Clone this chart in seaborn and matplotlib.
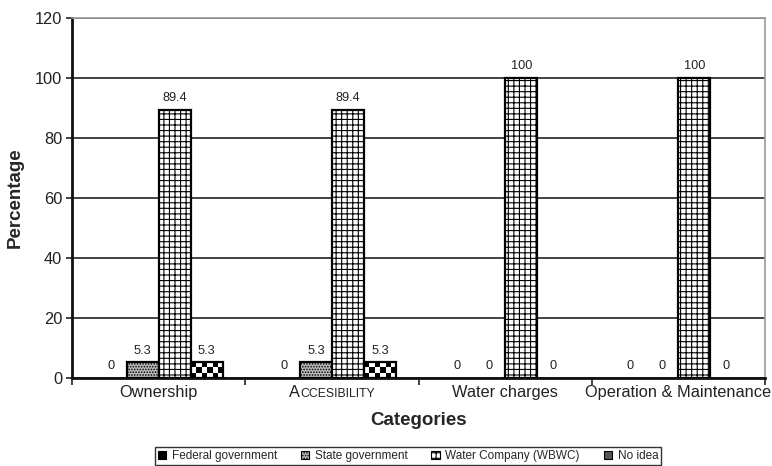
import matplotlib
matplotlib.use("Agg")
import numpy as np
import pandas as pd
import matplotlib.pyplot as plt
import seaborn as sns
from matplotlib.patches import Patch
from matplotlib.offsetbox import TextArea, HPacker, AnnotationBbox
from matplotlib.transforms import blended_transform_factory

# --- data -------------------------------------------------------------
categories = ["Ownership", "Accesibility", "Water charges", "Operation & Maintenance"]
series = ["Federal government", "State government", "Water Company (WBWC)", "No idea"]
federal = [0, 0, 0, 0]
state = [5.3, 5.3, 0, 0]
water_company = [89.4, 89.4, 100, 100]
no_idea = [5.3, 5.3, 0, 0]
y_ticks = [0, 20, 40, 60, 80, 100, 120]

values = {
    "Federal government": federal,
    "State government": state,
    "Water Company (WBWC)": water_company,
    "No idea": no_idea,
}
df = pd.DataFrame(
    [(c, s, values[s][i]) for s in series for i, c in enumerate(categories)],
    columns=["Category", "Series", "Percentage"],
)

# --- style ------------------------------------------------------------
sns.set_theme(style="white")
plt.rcParams["font.family"] = ["Liberation Sans", "DejaVu Sans"]
plt.rcParams["hatch.linewidth"] = 0.8

fig = plt.figure(figsize=(7.72, 4.66), dpi=100)
ax = fig.add_axes([0.0933, 0.1888, 0.8977, 0.7726])

sns.barplot(
    data=df, x="Category", y="Percentage", hue="Series",
    order=categories, hue_order=series, width=0.74,
    errorbar=None, saturation=1, legend=False, ax=ax,
)

styles = [
    dict(facecolor="black", hatch=""),
    dict(facecolor="#bdbdbd", hatch="......"),
    dict(facecolor="white", hatch="+++"),
    dict(facecolor="white", hatch=""),
]

for cont, st, s in zip(ax.containers, styles, series):
    for bar in cont:
        bar.set_facecolor(st["facecolor"])
        bar.set_hatch(st["hatch"])
        bar.set_edgecolor("black")
        bar.set_linewidth(1.6 if bar.get_height() > 0 else 0)
        bar.set_zorder(3)
    ax.bar_label(cont, labels=[f"{v:g}" for v in values[s]],
                 padding=4, fontsize=9.2, color="#222222")

# checkerboard fill for the "No idea" bars
checker = np.indices((3, 6)).sum(axis=0) % 2
for bar in ax.containers[3]:
    if bar.get_height() > 0:
        x0, y0 = bar.get_x(), bar.get_y()
        im = ax.imshow(checker, cmap="gray", interpolation="nearest",
                       extent=(x0, x0 + bar.get_width(), y0, y0 + bar.get_height()),
                       aspect="auto", zorder=3.5)
        im.set_clip_path(bar)
        bar.set_zorder(4)
        bar.set_facecolor("none")

ax.set_xlim(-0.5, len(categories) - 0.5)
ax.set_ylim(0, 120)
ax.set_yticks(y_ticks)
ax.tick_params(axis="y", labelsize=11.8, length=4, width=1.2, direction="out",
               left=True, pad=3, colors="#222222")
ax.set_xticks(range(len(categories)))
ax.set_xticklabels(categories)
ax.set_xticks(np.arange(-0.5, len(categories)), minor=True)
ax.tick_params(axis="x", which="major", length=0, labelsize=11.8, pad=5,
               colors="#222222")
ax.tick_params(axis="x", which="minor", length=5, width=1.2, bottom=True,
               direction="out", color="#222222")

ax.yaxis.grid(True, color="#333333", linewidth=1.3)
ax.set_axisbelow(True)
for side in ["left", "bottom"]:
    ax.spines[side].set_color("#111111")
    ax.spines[side].set_linewidth(2)
for side in ["top", "right"]:
    ax.spines[side].set_color("#999999")
    ax.spines[side].set_linewidth(1.2)

ax.set_ylabel("Percentage", fontsize=13.5, fontweight="bold", labelpad=8)
ax.set_xlabel("Categories", fontsize=13.5, fontweight="bold", labelpad=9)

# small-caps rendering for the second category label
fig.canvas.draw()
lbl = ax.get_xticklabels()[1]
bb = lbl.get_window_extent()
top_axes = ax.transAxes.inverted().transform((0, bb.y1))[1]
lbl.set_visible(False)
sc = HPacker(children=[
    TextArea("A", textprops=dict(fontsize=11.8, color="#222222")),
    TextArea("CCESIBILITY", textprops=dict(fontsize=8.8, color="#222222")),
], align="baseline", pad=0, sep=0)
ab = AnnotationBbox(sc, (1, top_axes),
                    xycoords=blended_transform_factory(ax.transData, ax.transAxes),
                    box_alignment=(0.5, 1), frameon=False, annotation_clip=False)
ax.add_artist(ab)

# legend
handles = []
for st, s in zip(styles, series):
    fc = st["facecolor"] if s != "No idea" else "#555555"
    handles.append(Patch(facecolor=fc, edgecolor="black", hatch=st["hatch"],
                         linewidth=0.8, label=s))
leg = fig.legend(handles=handles, loc="lower center", ncol=4,
                 bbox_to_anchor=(408 / 772, 1 / 466), fontsize=8.5,
                 frameon=True, fancybox=False, handlelength=0.7,
                 handleheight=0.7, handletextpad=0.5, columnspacing=2.0,
                 borderpad=0.25, borderaxespad=0)
leg.get_frame().set_edgecolor("black")
leg.get_frame().set_linewidth(1)

fig.savefig("out.png", dpi=100)
